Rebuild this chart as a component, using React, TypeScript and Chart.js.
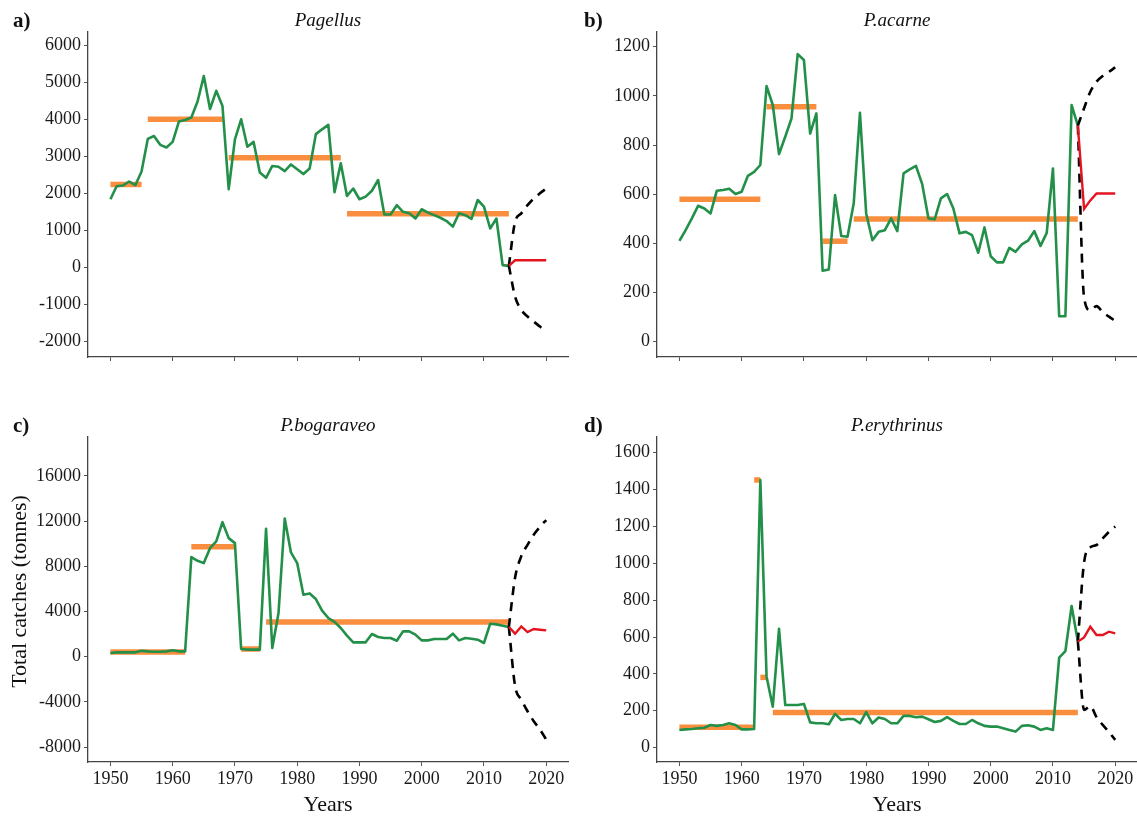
import React, { useEffect, useRef } from "react";
import { Chart, registerables } from "chart.js";

Chart.register(...registerables);

const FONT = '"Liberation Serif", "Times New Roman", serif';
const GREEN = "#23904a";
const ORANGE = "#f98e3f";
const RED = "#e3141f";
const DASH = "#000000";

// ---------- data ----------
const histYears = [
  1950, 1951, 1952, 1953, 1954, 1955, 1956, 1957, 1958, 1959,
  1960, 1961, 1962, 1963, 1964, 1965, 1966, 1967, 1968, 1969,
  1970, 1971, 1972, 1973, 1974, 1975, 1976, 1977, 1978, 1979,
  1980, 1981, 1982, 1983, 1984, 1985, 1986, 1987, 1988, 1989,
  1990, 1991, 1992, 1993, 1994, 1995, 1996, 1997, 1998, 1999,
  2000, 2001, 2002, 2003, 2004, 2005, 2006, 2007, 2008, 2009,
  2010, 2011, 2012, 2013, 2014,
];
const forecastYears = [2014, 2015, 2016, 2017, 2018, 2019, 2020];
const xTickYears = [1950, 1960, 1970, 1980, 1990, 2000, 2010, 2020];

// a) Pagellus
const pagellusCatch = [
  1850, 2200, 2220, 2330, 2230, 2600, 3480, 3560, 3320, 3250,
  3400, 3950, 3990, 4060, 4490, 5180, 4290, 4780, 4370, 2120,
  3470, 4010, 3270, 3400, 2570, 2430, 2750, 2730, 2610, 2790,
  2660, 2530, 2680, 3610, 3740, 3860, 2040, 2820, 1940, 2140,
  1850, 1920, 2080, 2370, 1440, 1440, 1690, 1510, 1470, 1330,
  1580, 1490, 1420, 1350, 1260, 1110, 1470, 1420, 1320, 1830,
  1650, 1060, 1330, 70, 50,
];
const pagellusForecast = [50, 200, 200, 200, 200, 200, 200];
const pagellusUpper = [50, 1240, 1470, 1690, 1870, 2010, 2140];
const pagellusLower = [50, -780, -1140, -1320, -1460, -1590, -1730];
const pagellusRegimes: [number, number, number][] = [
  [1950, 1955, 2250],
  [1956, 1968, 4010],
  [1969, 1987, 2970],
  [1988, 2014, 1460],
];
const pagellusTicks = [-2000, -1000, 0, 1000, 2000, 3000, 4000, 5000, 6000];

// b) P.acarne
const acarneCatch = [
  410, 454, 502, 553, 542, 522, 614, 617, 622, 601,
  610, 675, 691, 719, 1040, 963, 763, 834, 908, 1170,
  1146, 847, 929, 289, 294, 597, 430, 427, 563, 931,
  522, 413, 447, 454, 502, 450, 685, 701, 715, 641,
  502, 498, 583, 601, 542, 441, 447, 434, 362, 465,
  348, 323, 323, 382, 366, 396, 411, 450, 390, 443,
  705, 104, 104, 963, 879,
];
const acarneForecast = [879, 540, 575, 603, 603, 603, 603];
const acarneUpper = [879, 950, 1017, 1058, 1081, 1098, 1116];
const acarneLower = [879, 180, 128, 145, 120, 102, 85];
const acarneRegimes: [number, number, number][] = [
  [1950, 1963, 580],
  [1964, 1972, 956],
  [1973, 1977, 409],
  [1978, 2014, 499],
];
const acarneTicks = [0, 200, 400, 600, 800, 1000, 1200];

// c) P.bogaraveo
const bogaraveoCatch = [
  324, 383, 383, 383, 383, 530, 470, 440, 440, 470,
  560, 470, 470, 8815, 8490, 8284, 9610, 10200, 11910, 10495,
  10053, 678, 620, 620, 620, 11320, 766, 3860, 12234, 9227,
  8284, 5483, 5600, 5100, 4080, 3420, 3080, 2540, 1857, 1268,
  1268, 1268, 2005, 1739, 1651, 1651, 1415, 2240, 2240, 1946,
  1444, 1444, 1562, 1562, 1562, 2034, 1444, 1651, 1592, 1503,
  1209, 2919, 2860, 2742, 2624,
];
const bogaraveoForecast = [2624, 2034, 2683, 2182, 2447, 2388, 2329];
const bogaraveoUpper = [2624, 7000, 8900, 9900, 10800, 11500, 12100];
const bogaraveoLower = [2624, -2600, -3800, -4835, -5720, -6456, -7340];
const bogaraveoRegimes: [number, number, number][] = [
  [1950, 1962, 413],
  [1963, 1970, 9728],
  [1971, 1974, 678],
  [1975, 2014, 3066],
];
const bogaraveoTicks = [-8000, -4000, 0, 4000, 8000, 12000, 16000];

// d) P.erythrinus
const erythrinusCatch = [
  96, 99, 101, 105, 108, 123, 118, 123, 132, 123,
  99, 99, 101, 1452, 385, 222, 644, 231, 231, 231,
  237, 137, 132, 132, 127, 183, 150, 155, 155, 132,
  192, 132, 163, 155, 132, 132, 172, 172, 165, 168,
  154, 139, 145, 165, 145, 128, 128, 150, 132, 118,
  114, 114, 105, 96, 87, 118, 121, 114, 96, 105,
  96, 488, 524, 768, 575,
];
const erythrinusForecast = [575, 598, 656, 611, 611, 629, 620];
const erythrinusUpper = [575, 1005, 1087, 1099, 1135, 1171, 1199];
const erythrinusLower = [575, 205, 225, 165, 123, 85, 42];
const erythrinusRegimes: [number, number, number][] = [
  [1950, 1962, 110],
  [1962, 1963, 1452],
  [1963, 1964, 381],
  [1965, 2014, 190],
];
const erythrinusTicks = [0, 200, 400, 600, 800, 1000, 1200, 1400, 1600];

// ---------- panel specs ----------
type PanelSpec = {
  letter: string;
  title: string;
  left: number;
  top: number;
  width: number;
  height: number;
  rightPad: number;
  yMin: number;
  yMax: number;
  yTicks: number[];
  catches: number[];
  forecast: number[];
  upper: number[];
  lower: number[];
  regimes: [number, number, number][];
  bottomRow: boolean;
  yTitle?: string;
};

const panels: PanelSpec[] = [
  {
    letter: "a)", title: "Pagellus", left: 0, top: 0, width: 569, height: 405, rightPad: 1,
    yMin: -2413, yMax: 6370, yTicks: pagellusTicks, catches: pagellusCatch,
    forecast: pagellusForecast, upper: pagellusUpper, lower: pagellusLower,
    regimes: pagellusRegimes, bottomRow: false,
  },
  {
    letter: "b)", title: "P.acarne", left: 569, top: 0, width: 568, height: 405, rightPad: 0,
    yMin: -62, yMax: 1260, yTicks: acarneTicks, catches: acarneCatch,
    forecast: acarneForecast, upper: acarneUpper, lower: acarneLower,
    regimes: acarneRegimes, bottomRow: false,
  },
  {
    letter: "c)", title: "P.bogaraveo", left: 0, top: 405, width: 569, height: 412, rightPad: 1,
    yMin: -9327, yMax: 19450, yTicks: bogaraveoTicks, catches: bogaraveoCatch,
    forecast: bogaraveoForecast, upper: bogaraveoUpper, lower: bogaraveoLower,
    regimes: bogaraveoRegimes, bottomRow: true, yTitle: "Total catches (tonnes)",
  },
  {
    letter: "d)", title: "P.erythrinus", left: 569, top: 405, width: 568, height: 412, rightPad: 0,
    yMin: -78, yMax: 1685, yTicks: erythrinusTicks, catches: erythrinusCatch,
    forecast: erythrinusForecast, upper: erythrinusUpper, lower: erythrinusLower,
    regimes: erythrinusRegimes, bottomRow: true,
  },
];

const textPlugin = {
  id: "panelText",
  afterDraw(chart: any, _args: any, opts: any) {
    const { ctx, chartArea } = chart;
    const cx = (chartArea.left + chartArea.right) / 2;
    ctx.save();
    ctx.fillStyle = "#111111";
    ctx.textBaseline = "alphabetic";
    ctx.textAlign = "left";
    ctx.font = `bold 21px ${FONT}`;
    ctx.fillText(opts.letter, opts.letterX, 27);
    ctx.textAlign = "center";
    ctx.font = `italic 19px ${FONT}`;
    ctx.fillText(opts.title, cx, 26);
    if (opts.xTitle) {
      ctx.font = `22px ${FONT}`;
      ctx.textBaseline = "middle";
      ctx.fillText(opts.xTitle, cx, opts.xTitleY);
    }
    if (opts.yTitle) {
      ctx.font = `22px ${FONT}`;
      ctx.textBaseline = "middle";
      ctx.translate(opts.yTitleX, (chartArea.top + chartArea.bottom) / 2 - 8);
      ctx.rotate(-Math.PI / 2);
      ctx.fillText(opts.yTitle, 0, 0);
    }
    ctx.restore();
  },
};

const pts = (xs: number[], ys: number[]) => xs.map((x, i) => ({ x, y: ys[i] }));

function Panel({ spec }: { spec: PanelSpec }) {
  const ref = useRef<HTMLCanvasElement | null>(null);
  useEffect(() => {
    if (!ref.current) return;
    const chartTop = 32;
    const chartBottom = 357;
    const xAxisH = spec.height - chartBottom;

    const regimeSets = spec.regimes.map(([a, b, v]) => ({
      data: [{ x: a, y: v }, { x: b, y: v }],
      borderColor: ORANGE,
      borderWidth: 5.5,
      borderCapStyle: "butt",
      pointRadius: 0,
      tension: 0,
      order: 5,
    }));

    const datasets: any[] = [
      ...regimeSets,
      {
        data: pts(histYears, spec.catches),
        borderColor: GREEN,
        borderWidth: 2.6,
        pointRadius: 0,
        tension: 0,
        borderJoinStyle: "round",
        order: 4,
      },
      {
        data: pts(forecastYears, spec.upper),
        borderColor: DASH,
        borderWidth: 2.6,
        borderDash: [9, 7],
        pointRadius: 0,
        cubicInterpolationMode: "monotone",
        order: 3,
      },
      {
        data: pts(forecastYears, spec.lower),
        borderColor: DASH,
        borderWidth: 2.6,
        borderDash: [9, 7],
        pointRadius: 0,
        cubicInterpolationMode: "monotone",
        order: 3,
      },
      {
        data: pts(forecastYears, spec.forecast),
        borderColor: RED,
        borderWidth: 2.4,
        pointRadius: 0,
        tension: 0,
        order: 1,
      },
    ];

    const chart = new Chart(ref.current, {
      type: "line",
      data: { datasets },
      plugins: [textPlugin as any],
      options: {
        responsive: false,
        animation: false,
        events: [],
        layout: { padding: { top: chartTop, left: 0, right: spec.rightPad, bottom: 0 } },
        plugins: {
          legend: { display: false },
          tooltip: { enabled: false },
          panelText: {
            letter: spec.letter,
            letterX: spec.left === 0 ? 13 : 15,
            title: spec.title,
            xTitle: spec.bottomRow ? "Years" : null,
            xTitleY: 400,
            yTitle: spec.yTitle || null,
            yTitleX: 20,
          },
        } as any,
        scales: {
          x: {
            type: "linear",
            min: 1946.4,
            max: 2023.5,
            afterBuildTicks: (s: any) => {
              s.ticks = xTickYears.map((v) => ({ value: v }));
            },
            afterFit: (s: any) => {
              s.height = xAxisH;
            },
            ticks: {
              display: spec.bottomRow,
              autoSkip: false,
              maxRotation: 0,
              padding: 2,
              color: "#1a1a1a",
              font: { family: FONT, size: 18 },
              callback: (v: any) => String(v),
            },
            grid: {
              display: true,
              drawOnChartArea: false,
              drawTicks: true,
              tickLength: 4,
              color: "#555555",
              lineWidth: 1,
            },
            border: { display: true, color: "#444444", width: 1.3 },
          },
          y: {
            type: "linear",
            min: spec.yMin,
            max: spec.yMax,
            afterBuildTicks: (s: any) => {
              s.ticks = spec.yTicks.map((v) => ({ value: v }));
            },
            afterFit: (s: any) => {
              s.width = 88;
            },
            ticks: {
              autoSkip: false,
              padding: 3,
              color: "#1a1a1a",
              font: { family: FONT, size: 18 },
              callback: (v: any) => String(v),
            },
            grid: {
              display: true,
              drawOnChartArea: false,
              drawTicks: true,
              tickLength: 4,
              color: "#555555",
              lineWidth: 1,
            },
            border: { display: true, color: "#444444", width: 1.3 },
          },
        },
      } as any,
    });
    return () => chart.destroy();
  }, [spec]);

  return (
    <canvas
      ref={ref}
      width={spec.width}
      height={spec.height}
      style={{
        position: "absolute",
        left: spec.left,
        top: spec.top,
        width: spec.width,
        height: spec.height,
        display: "block",
      }}
    />
  );
}

export default function App() {
  return (
    <div
      style={{
        position: "absolute",
        left: 0,
        top: 0,
        width: 1137,
        height: 817,
        background: "#ffffff",
        overflow: "hidden",
      }}
    >
      {panels.map((p) => (
        <Panel key={p.letter} spec={p} />
      ))}
    </div>
  );
}
